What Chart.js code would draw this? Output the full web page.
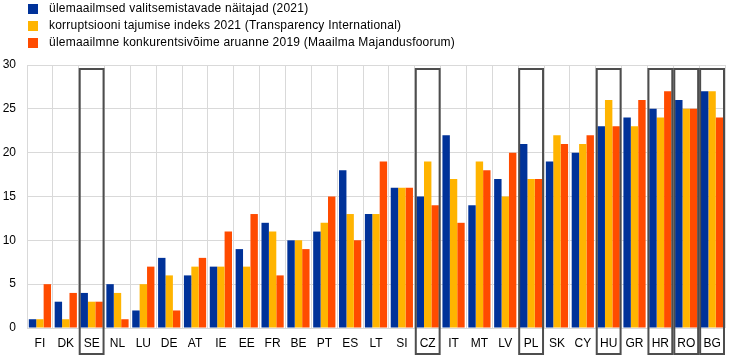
<!DOCTYPE html>
<html>
<head>
<meta charset="utf-8">
<script src="https://cdn.jsdelivr.net/npm/chart.js@4/dist/chart.umd.min.js"></script>
<style>
  html, body { margin: 0; padding: 0; background: #fff; }
  #wrap { position: relative; width: 744px; height: 356px; }
  #legend { position: absolute; left: 28px; top: 0; font-family: "Liberation Sans", Arial, sans-serif; font-size: 12px; letter-spacing: 0.22px; color: #000; }
  .item { height: 17px; line-height: 17px; display: flex; align-items: center; }
  .sw { width: 10px; height: 10px; margin-right: 11px; }
  canvas { position: absolute; left: 0; top: 0; }
</style>
</head>
<body>
<div id="wrap">
  <canvas id="c" width="744" height="356"></canvas>
  <div id="legend"></div>
</div>
<script>
const categories = ["FI","DK","SE","NL","LU","DE","AT","IE","EE","FR","BE","PT","ES","LT","SI","CZ","IT","MT","LV","PL","SK","CY","HU","GR","HR","RO","BG"];
const seriesNames = [
  "ülemaailmsed valitsemistavade näitajad (2021)",
  "korruptsiooni tajumise indeks 2021 (Transparency International)",
  "ülemaailmne konkurentsivõime aruanne 2019 (Maailma Majandusfoorum)"
];
const governance = [1,3,4,5,2,8,6,7,9,12,10,11,18,13,16,15,22,14,17,21,19,20,23,24,25,26,27];
const corruption = [1,1,3,4,5,6,7,7,7,11,10,12,13,13,16,19,17,19,15,17,22,21,26,23,24,25,27];
const competitiveness = [5,4,3,1,7,2,8,11,13,6,9,15,10,19,16,14,12,18,20,17,21,22,23,26,27,25,24];
const highlighted = ["SE","CZ","PL","HU","HR","RO","BG"];
const yTicks = [0,5,10,15,20,25,30];
const colors = ["#003299","#FFB400","#FF4B00"];

const legendEl = document.getElementById('legend');
seriesNames.forEach((n,i)=>{
  const d = document.createElement('div'); d.className='item';
  const s = document.createElement('span'); s.className='sw'; s.style.background = colors[i];
  const t = document.createElement('span'); t.textContent = n;
  d.appendChild(s); d.appendChild(t); legendEl.appendChild(d);
});

const boxPlugin = {
  id: 'boxes',
  afterDraw(chart) {
    const x = chart.scales.x, area = chart.chartArea, ctx = chart.ctx;
    const w = (area.right - area.left) / categories.length;
    ctx.save();
    ctx.strokeStyle = '#4d4d4d';
    ctx.lineWidth = 2;
    highlighted.forEach(c => {
      const i = categories.indexOf(c);
      const cx = x.getPixelForValue(i);
      ctx.strokeRect(cx - w/2 + 1, area.top + 4, w - 2, chart.height - area.top - 6);
    });
    ctx.restore();
  }
};

const font = { family: '"Liberation Sans", Arial, sans-serif', size: 12 };
new Chart(document.getElementById('c'), {
  type: 'bar',
  data: {
    labels: categories,
    datasets: [
      { label: seriesNames[0], data: governance, backgroundColor: colors[0] },
      { label: seriesNames[1], data: corruption, backgroundColor: colors[1] },
      { label: seriesNames[2], data: competitiveness, backgroundColor: colors[2] }
    ]
  },
  options: {
    responsive: false,
    animation: false,
    devicePixelRatio: 1,
    layout: { padding: { top: 65, right: 19, left: 0, bottom: 0 } },
    datasets: { bar: { categoryPercentage: 0.86, barPercentage: 1 } },
    plugins: { legend: { display: false }, tooltip: { enabled: false } },
    scales: {
      x: {
        afterFit(s) { s.height = 28; },
        grid: { color: '#d9d9d9', lineWidth: 1, drawTicks: false, offset: true },
        border: { display: false },
        ticks: { color: '#000', font, padding: 8, maxRotation: 0, autoSkip: false }
      },
      y: {
        min: 0, max: 30,
        afterBuildTicks(s) { s.ticks = yTicks.map(v => ({ value: v })); },
        afterFit(s) { s.width = 27; },
        grid: { color: '#d9d9d9', lineWidth: 1, drawTicks: false },
        border: { display: false },
        ticks: { color: '#000', font, padding: 11 }
      }
    }
  },
  plugins: [boxPlugin]
});
</script>
</body>
</html>
